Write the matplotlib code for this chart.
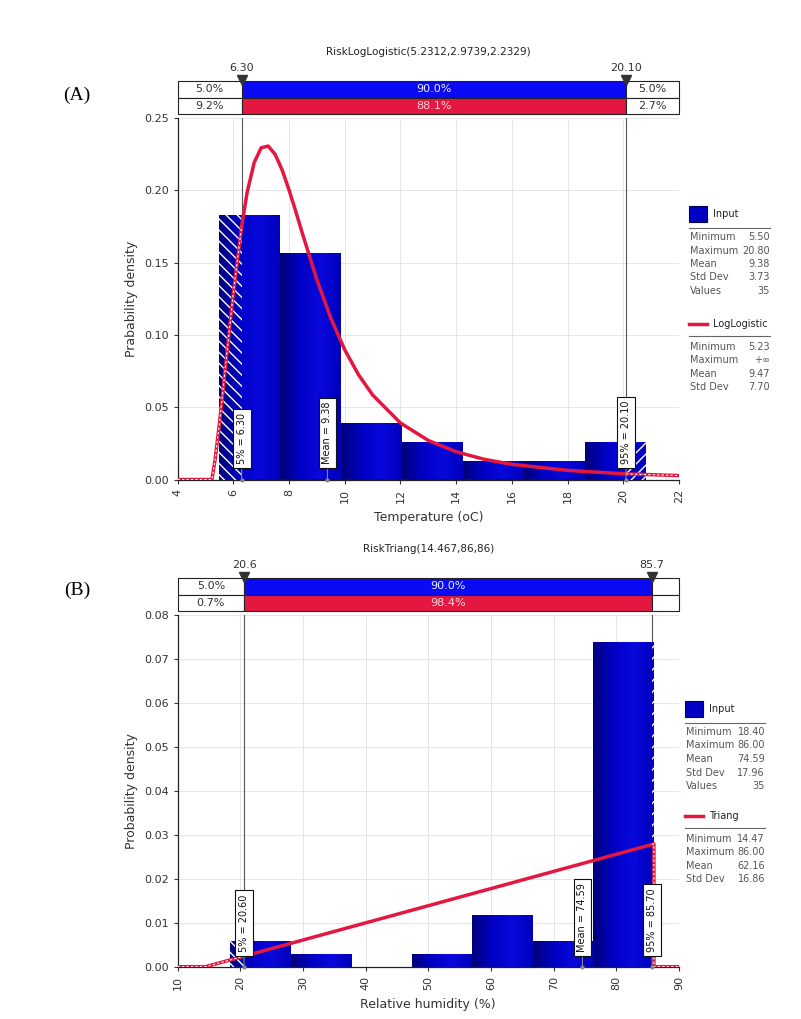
import numpy as np
import matplotlib
matplotlib.use('Agg')
import matplotlib.pyplot as plt
from matplotlib.colors import LinearSegmentedColormap

# ---- data read off the two @RISK fit reports ----
# (A) temperature
temp_edges = [5.5, 7.686, 9.871, 12.057, 14.243, 16.429, 18.614, 20.8]
temp_counts = [14, 12, 3, 2, 1, 1, 2]
temp_curve_x = [4, 5.2312, 5.35, 5.5, 5.75, 6.0, 6.30, 6.5, 6.75, 7.0, 7.25, 7.5, 7.75,
                8.0, 8.25, 8.5, 9.0, 9.5, 10, 10.5, 11, 12, 13, 14, 15, 16, 18, 20, 20.1, 22]
temp_curve_y = [0, 0, 0.0142, 0.0384, 0.0838, 0.1288, 0.1752, 0.1989, 0.2192, 0.2294, 0.2306,
                0.2249, 0.2142, 0.2003, 0.1849, 0.1689, 0.1382, 0.1116, 0.0897, 0.0723,
                0.0585, 0.0391, 0.0270, 0.0192, 0.0140, 0.0105, 0.0063, 0.0040, 0.0039, 0.0027]
temp_p5, temp_p95, temp_mean = 6.30, 20.10, 9.38
temp_marks = ['5% = 6.30', 'Mean = 9.38', '95% = 20.10']
temp_top = ['6.30', '20.10']
temp_row1 = ['5.0%', '90.0%', '5.0%']
temp_row2 = ['9.2%', '88.1%', '2.7%']
temp_input = [('Minimum', '5.50'), ('Maximum', '20.80'), ('Mean', '9.38'),
              ('Std Dev', '3.73'), ('Values', '35')]
temp_fit = [('Minimum', '5.23'), ('Maximum', '+\u221e'), ('Mean', '9.47'), ('Std Dev', '7.70')]

# (B) relative humidity
hum_edges = [18.4, 28.057, 37.714, 47.371, 57.029, 66.686, 76.343, 86.0]
hum_counts = [2, 1, 0, 1, 4, 2, 25]
hum_curve_x = [10, 14.467, 20.6, 85.7, 86, 86, 90]
hum_curve_y = [0, 0, 0.0024, 0.0278, 0.02796, 0, 0]
hum_p5, hum_p95, hum_mean = 20.6, 85.7, 74.59
hum_marks = ['5% = 20.60', 'Mean = 74.59', '95% = 85.70']
hum_top = ['20.6', '85.7']
hum_row1 = ['5.0%', '90.0%', '']
hum_row2 = ['0.7%', '98.4%', '']
hum_input = [('Minimum', '18.40'), ('Maximum', '86.00'), ('Mean', '74.59'),
             ('Std Dev', '17.96'), ('Values', '35')]
hum_fit = [('Minimum', '14.47'), ('Maximum', '86.00'), ('Mean', '62.16'), ('Std Dev', '16.86')]

W, H = 801, 1019
fig = plt.figure(figsize=(W / 100, H / 100), dpi=100)
plt.rcParams['font.family'] = 'DejaVu Sans'

RED = '#e3173f'
BLUE = '#0a0af5'
GRAY = '#333333'
bar_cmap = LinearSegmentedColormap.from_list('bars', ['#00007c', '#0000c4', '#0808dc', '#0000bc'])
L_PX, R_PX = 177.6, 679


def fx(px):
    return px / W


def fy(py):
    return 1 - py / H


def draw_panel(top, bottom, box_top, title, edges, counts, cx, cy, p5, p95, mean, marks,
               top_lbls, row1, row2, xlim, xticks, ylim, yticks, ylabel, xlabel):
    ax = fig.add_axes([fx(L_PX), fy(bottom), fx(R_PX) - fx(L_PX), (bottom - top) / H])
    edges = np.array(edges)
    widths = np.diff(edges)
    dens = np.array(counts) / (np.sum(counts) * widths)

    grad = np.linspace(0, 1, 64).reshape(1, -1)
    for x0, w, h in zip(edges[:-1], widths, dens):
        if h <= 0:
            continue
        b = ax.bar(x0, h, width=w, align='edge', color='#0000c4', edgecolor='none', zorder=2)[0]
        im = ax.imshow(grad, extent=[x0, x0 + w, 0, h], aspect='auto', cmap=bar_cmap, zorder=2)
        im.set_clip_path(b)
        # hatched tails outside the 5%-95% interval
        if x0 < p5:
            ax.bar(x0, h, width=min(x0 + w, p5) - x0, align='edge', color='none',
                   edgecolor='white', lw=0, hatch='\\\\\\', zorder=3)
        if x0 + w > p95:
            s = max(x0, p95)
            ax.bar(s, h, width=x0 + w - s, align='edge', color='none',
                   edgecolor='white', lw=0, hatch='///', zorder=3)

    cx = np.array(cx)
    cy = np.array(cy)
    ax.plot(cx, cy, color=RED, lw=2.5, zorder=4, solid_joinstyle='round')
    for m in (cx <= p5, cx >= p95):
        ax.plot(cx[m], cy[m], color='white', lw=0.8, dashes=(2, 2), zorder=5)

    for xv in (p5, p95):
        ax.axvline(xv, color='#555555', lw=0.8, zorder=1.5)
    for xv, s in zip((p5, mean, p95), marks):
        ax.annotate(s, xy=(xv, 0), xytext=(0, 15), textcoords='offset pixels',
                    rotation=90, ha='center', va='bottom', fontsize=7, color='#111111',
                    bbox=dict(boxstyle='square,pad=0.4', fc='white', ec='#111111', lw=0.8),
                    arrowprops=dict(arrowstyle='-', color='#888888', lw=0.8,
                                    shrinkA=0, shrinkB=0), zorder=6)
        ax.plot(xv, 0, 'o', ms=2, color='#888888', zorder=6, clip_on=False)

    ax.set_xlim(xlim)
    ax.set_ylim(ylim)
    ax.set_xticks(xticks)
    ax.set_yticks(yticks)
    ax.set_yticklabels(['%.2f' % v for v in yticks])
    ax.tick_params(axis='x', labelrotation=90)
    ax.tick_params(labelsize=8, colors=GRAY, length=3, width=0.8)
    ax.grid(color='#e6e6e6', lw=0.7)
    ax.set_axisbelow(True)
    for sp in ('top', 'right'):
        ax.spines[sp].set_visible(False)
    for sp in ('left', 'bottom'):
        ax.spines[sp].set_color('#222222')
        ax.spines[sp].set_linewidth(0.9)

    # percentile bar above the plot
    box_bot = top - 4
    bx = fig.add_axes([fx(L_PX), fy(box_bot), fx(R_PX) - fx(L_PX), (box_bot - box_top) / H])
    bx.set_xlim(xlim)
    bx.set_ylim(0, 2)
    bx.axis('off')
    lefts = [xlim[0], p5, p95]
    wds = [p5 - xlim[0], p95 - p5, xlim[1] - p95]
    bx.barh([1.5] * 3, wds, left=lefts, height=1, color=['white', BLUE, 'white'],
            edgecolor='#222222', lw=0.8, clip_on=False)
    bx.barh([0.5] * 3, wds, left=lefts, height=1, color=['white', RED, 'white'],
            edgecolor='#222222', lw=0.8, clip_on=False)
    for row, yv in ((row1, 1.5), (row2, 0.5)):
        for i, s in enumerate(row):
            col = '#f0f0ff' if i == 1 else GRAY
            if i == 1 and yv < 1:
                col = '#ffd6de'
            bx.text(lefts[i] + wds[i] / 2, yv, s, ha='center', va='center', fontsize=8, color=col)
    bx.plot([p5, p95], [2.05, 2.05], 'v', ms=7, color='#333333', clip_on=False, zorder=5)
    for xv, s in zip((p5, p95), top_lbls):
        bx.annotate(s, xy=(xv, 2), xytext=(0, 8), textcoords='offset pixels',
                    ha='center', va='bottom', fontsize=8, color=GRAY)
    fig.text(fx((L_PX + R_PX) / 2), fy(box_top - 29), title, ha='center', va='center',
             fontsize=7.5, color='#222222')
    fig.text(fx(132), fy((top + bottom) / 2), ylabel, rotation=90, ha='center', va='center',
             fontsize=9, color=GRAY)
    fig.text(fx((L_PX + R_PX) / 2), fy(bottom + 38), xlabel, ha='center', va='center',
             fontsize=9, color=GRAY)
    return ax


def draw_legend(x0, y_head, stats, fit_name, y_fit, fit_stats, right):
    fig.patches.append(plt.Rectangle((fx(x0), fy(y_head + 8)), 18 / W, 16 / H,
                                     transform=fig.transFigure, fc='#0000c4', ec='#000050', lw=0.8))
    fig.text(fx(x0 + 24), fy(y_head), 'Input', fontsize=7, va='center', color='#222222')
    fig.lines.append(plt.Line2D([fx(x0), fx(right)], [fy(y_head + 14)] * 2,
                                transform=fig.transFigure, color='#666666', lw=0.8))
    for i, (k, v) in enumerate(stats):
        yy = y_head + 23 + i * 13.5
        fig.text(fx(x0 + 1), fy(yy), k, fontsize=7, va='center', color='#555555')
        fig.text(fx(right), fy(yy), v, fontsize=7, va='center', ha='right', color='#555555')
    fig.lines.append(plt.Line2D([fx(x0), fx(x0 + 18)], [fy(y_fit)] * 2,
                                transform=fig.transFigure, color=RED, lw=2.5))
    fig.text(fx(x0 + 24), fy(y_fit), fit_name, fontsize=7, va='center', color='#222222')
    fig.lines.append(plt.Line2D([fx(x0), fx(right)], [fy(y_fit + 12)] * 2,
                                transform=fig.transFigure, color='#666666', lw=0.8))
    for i, (k, v) in enumerate(fit_stats):
        yy = y_fit + 23 + i * 13.3
        fig.text(fx(x0 + 1), fy(yy), k, fontsize=7, va='center', color='#555555')
        fig.text(fx(right), fy(yy), v, fontsize=7, va='center', ha='right', color='#555555')


draw_panel(118, 479.5, 81, 'RiskLogLogistic(5.2312,2.9739,2.2329)', temp_edges, temp_counts,
           temp_curve_x, temp_curve_y, temp_p5, temp_p95, temp_mean, temp_marks, temp_top,
           temp_row1, temp_row2, (4, 22), np.arange(4, 23, 2), (0, 0.25),
           [0, 0.05, 0.10, 0.15, 0.20, 0.25], 'Prabability density', 'Temperature (oC)')
draw_panel(615, 966.7, 578, 'RiskTriang(14.467,86,86)', hum_edges, hum_counts,
           hum_curve_x, hum_curve_y, hum_p5, hum_p95, hum_mean, hum_marks, hum_top,
           hum_row1, hum_row2, (10, 90), np.arange(10, 91, 10), (0, 0.08),
           [0, 0.01, 0.02, 0.03, 0.04, 0.05, 0.06, 0.07, 0.08], 'Probability density',
           'Relative humidity (%)')

draw_legend(689, 214, temp_input, 'LogLogistic', 324, temp_fit, 770)
draw_legend(685, 709, hum_input, 'Triang', 816, hum_fit, 765)

fig.text(fx(77), fy(95), '(A)', fontsize=14, family='Liberation Serif', ha='center', va='center')
fig.text(fx(77), fy(590), '(B)', fontsize=14, family='Liberation Serif', ha='center', va='center')

fig.savefig('out.png', dpi=100)
